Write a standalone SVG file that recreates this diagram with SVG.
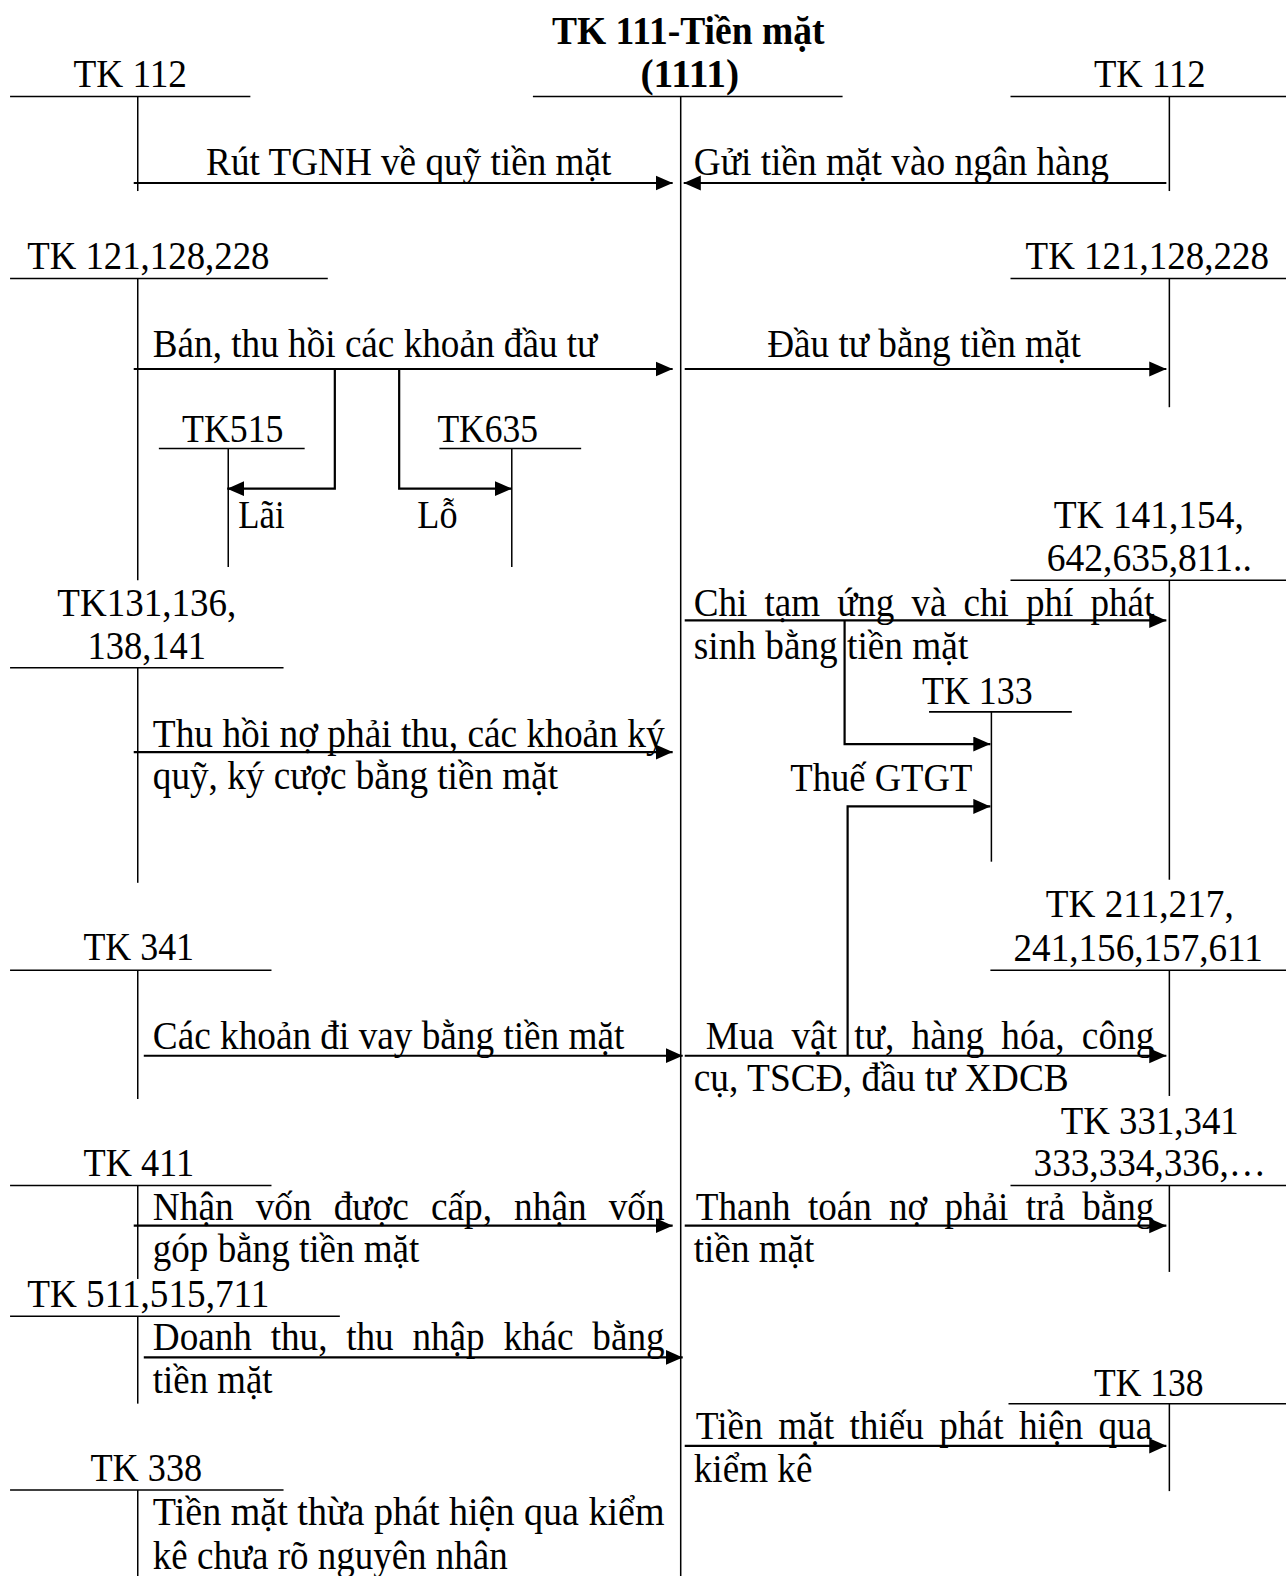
<svg xmlns="http://www.w3.org/2000/svg" width="1286" height="1576" viewBox="0 0 1286 1576">
<style>
.t{font-family:"Liberation Serif","Times New Roman",serif;font-size:40.5px;fill:#000}
.b{font-weight:bold}
.m{text-anchor:middle}
.ln{stroke:#000;stroke-width:1.5;fill:none}
.ar{stroke:#000;stroke-width:2.2;fill:none;marker-end:url(#ah)}
</style>
<defs>
<marker id="ah" markerUnits="userSpaceOnUse" markerWidth="18" markerHeight="16" refX="17" refY="7.5" orient="auto">
<path d="M0,0 L17,7.5 L0,15 z" fill="#000"/>
</marker>
</defs>
<rect width="1286" height="1576" fill="#fff"/>
<g transform="scale(1.00547)">
<g id="tk111">
<text class="t b m" x="684.5" y="44" textLength="271" lengthAdjust="spacingAndGlyphs">TK 111-Tiền mặt</text>
<text class="t b m" x="686" y="87" textLength="98" lengthAdjust="spacingAndGlyphs">(1111)</text>
<line class="ln" x1="530" y1="96" x2="838" y2="96"/>
<line class="ln" x1="677" y1="96" x2="677" y2="1568"/>
</g>
<g id="tk112-left">
<text class="t m" x="129.5" y="87" textLength="113" lengthAdjust="spacingAndGlyphs">TK 112</text>
<line class="ln" x1="10" y1="96" x2="249" y2="96"/>
<line class="ln" x1="137" y1="96" x2="137" y2="190"/>
</g>
<g id="tk112-right">
<text class="t m" x="1143.5" y="87" textLength="111" lengthAdjust="spacingAndGlyphs">TK 112</text>
<line class="ln" x1="1005" y1="96" x2="1279" y2="96"/>
<line class="ln" x1="1163" y1="96" x2="1163" y2="190"/>
</g>
<g id="tk121-left">
<text class="t m" x="147.5" y="268" textLength="241" lengthAdjust="spacingAndGlyphs">TK 121,128,228</text>
<line class="ln" x1="10" y1="277" x2="326" y2="277"/>
<line class="ln" x1="137" y1="277" x2="137" y2="577"/>
</g>
<g id="tk121-right">
<text class="t m" x="1141" y="268" textLength="242" lengthAdjust="spacingAndGlyphs">TK 121,128,228</text>
<line class="ln" x1="1005" y1="277" x2="1279" y2="277"/>
<line class="ln" x1="1163" y1="277" x2="1163" y2="405"/>
</g>
<g id="tk515">
<text class="t m" x="231.5" y="440" textLength="101" lengthAdjust="spacingAndGlyphs">TK515</text>
<line class="ln" x1="158" y1="446" x2="303" y2="446"/>
<line class="ln" x1="227" y1="446" x2="227" y2="564"/>
</g>
<g id="tk635">
<text class="t m" x="485" y="440" textLength="100" lengthAdjust="spacingAndGlyphs">TK635</text>
<line class="ln" x1="437" y1="446" x2="578" y2="446"/>
<line class="ln" x1="509" y1="446" x2="509" y2="564"/>
</g>
<g id="tk141">
<text class="t m" x="1142.5" y="525" textLength="189" lengthAdjust="spacingAndGlyphs">TK 141,154,</text>
<text class="t m" x="1143" y="568" textLength="204" lengthAdjust="spacingAndGlyphs">642,635,811..</text>
<line class="ln" x1="1005" y1="577" x2="1279" y2="577"/>
<line class="ln" x1="1163" y1="577" x2="1163" y2="875"/>
</g>
<g id="tk131">
<text class="t m" x="146" y="613" textLength="178" lengthAdjust="spacingAndGlyphs">TK131,136,</text>
<text class="t m" x="146" y="655" textLength="118" lengthAdjust="spacingAndGlyphs">138,141</text>
<line class="ln" x1="10" y1="664" x2="282" y2="664"/>
<line class="ln" x1="137" y1="664" x2="137" y2="878"/>
</g>
<g id="tk133">
<text class="t m" x="972" y="700" textLength="110" lengthAdjust="spacingAndGlyphs">TK 133</text>
<line class="ln" x1="924" y1="708" x2="1066" y2="708"/>
<line class="ln" x1="986" y1="708" x2="986" y2="857"/>
</g>
<g id="tk211">
<text class="t m" x="1133.5" y="912" textLength="187" lengthAdjust="spacingAndGlyphs">TK 211,217,</text>
<text class="t m" x="1132" y="956" textLength="248" lengthAdjust="spacingAndGlyphs">241,156,157,611</text>
<line class="ln" x1="985" y1="965" x2="1279" y2="965"/>
<line class="ln" x1="1163" y1="965" x2="1163" y2="1090"/>
</g>
<g id="tk341">
<text class="t m" x="138" y="955" textLength="110" lengthAdjust="spacingAndGlyphs">TK 341</text>
<line class="ln" x1="10" y1="965" x2="270" y2="965"/>
<line class="ln" x1="137" y1="965" x2="137" y2="1093"/>
</g>
<g id="tk331">
<text class="t m" x="1143.5" y="1128" textLength="177" lengthAdjust="spacingAndGlyphs">TK 331,341</text>
<text class="t m" x="1143.5" y="1170" textLength="231" lengthAdjust="spacingAndGlyphs">333,334,336,…</text>
<line class="ln" x1="1005" y1="1179" x2="1279" y2="1179"/>
<line class="ln" x1="1163" y1="1179" x2="1163" y2="1265"/>
</g>
<g id="tk411">
<text class="t m" x="138" y="1170" textLength="110" lengthAdjust="spacingAndGlyphs">TK 411</text>
<line class="ln" x1="10" y1="1179" x2="270" y2="1179"/>
<line class="ln" x1="137" y1="1179" x2="137" y2="1272"/>
</g>
<g id="tk511">
<text class="t m" x="147.5" y="1300" textLength="241" lengthAdjust="spacingAndGlyphs">TK 511,515,711</text>
<line class="ln" x1="10" y1="1309" x2="338" y2="1309"/>
<line class="ln" x1="137" y1="1309" x2="137" y2="1396"/>
</g>
<g id="tk138">
<text class="t m" x="1142.5" y="1388" textLength="109" lengthAdjust="spacingAndGlyphs">TK 138</text>
<line class="ln" x1="1003" y1="1396" x2="1279" y2="1396"/>
<line class="ln" x1="1163" y1="1396" x2="1163" y2="1483"/>
</g>
<g id="tk338">
<text class="t m" x="145.5" y="1473" textLength="111" lengthAdjust="spacingAndGlyphs">TK 338</text>
<line class="ln" x1="10" y1="1482" x2="282" y2="1482"/>
<line class="ln" x1="137" y1="1482" x2="137" y2="1568"/>
</g>
<g id="connectors">
<line class="ar" x1="133" y1="182" x2="669" y2="182"/>
<line class="ar" x1="1160" y1="182" x2="680" y2="182"/>
<line class="ar" x1="133" y1="367" x2="669" y2="367"/>
<line class="ar" x1="681" y1="367" x2="1160" y2="367"/>
<polyline class="ar" points="333,367 333,486 226,486"/>
<polyline class="ar" points="397,367 397,486 509,486"/>
<line class="ar" x1="681" y1="617" x2="1160" y2="617"/>
<polyline class="ar" points="840,617 840,740 985,740"/>
<line class="ar" x1="133" y1="748" x2="669" y2="748"/>
<polyline class="ar" points="843,1050 843,802 985,802"/>
<line class="ar" x1="143" y1="1050" x2="679" y2="1050"/>
<line class="ar" x1="681" y1="1050" x2="1160" y2="1050"/>
<line class="ar" x1="133" y1="1219" x2="669" y2="1219"/>
<line class="ar" x1="681" y1="1219" x2="1160" y2="1219"/>
<line class="ar" x1="143" y1="1350" x2="679" y2="1350"/>
<line class="ar" x1="681" y1="1438" x2="1160" y2="1438"/>
</g>
<g id="labels">
<text class="t" x="205" y="174" textLength="403" lengthAdjust="spacingAndGlyphs">Rút TGNH về quỹ tiền mặt</text>
<text class="t" x="690" y="174" textLength="413" lengthAdjust="spacingAndGlyphs">Gửi tiền mặt vào ngân hàng</text>
<text class="t" x="152" y="355" textLength="442" lengthAdjust="spacingAndGlyphs">Bán, thu hồi các khoản đầu tư</text>
<text class="t" x="763" y="355" textLength="312" lengthAdjust="spacingAndGlyphs">Đầu tư bằng tiền mặt</text>
<text class="t" x="237" y="525" textLength="46" lengthAdjust="spacingAndGlyphs">Lãi</text>
<text class="t" x="415" y="525" textLength="40" lengthAdjust="spacingAndGlyphs">Lỗ</text>
<text class="t" x="690" y="613" style="word-spacing:8.5px" textLength="458" lengthAdjust="spacingAndGlyphs">Chi tạm ứng và chi phí phát</text>
<text class="t" x="690" y="655" textLength="273" lengthAdjust="spacingAndGlyphs">sinh bằng tiền mặt</text>
<text class="t" x="152" y="743" textLength="509" lengthAdjust="spacingAndGlyphs">Thu hồi nợ phải thu, các khoản ký</text>
<text class="t" x="152" y="785" textLength="403" lengthAdjust="spacingAndGlyphs">quỹ, ký cược bằng tiền mặt</text>
<text class="t m" x="876.5" y="787" textLength="181" lengthAdjust="spacingAndGlyphs">Thuế GTGT</text>
<text class="t" x="152" y="1043" textLength="469" lengthAdjust="spacingAndGlyphs">Các khoản đi vay bằng tiền mặt</text>
<text class="t" x="702" y="1043" style="word-spacing:8.75px" textLength="446" lengthAdjust="spacingAndGlyphs">Mua vật tư, hàng hóa, công</text>
<text class="t" x="690" y="1085" textLength="373" lengthAdjust="spacingAndGlyphs">cụ, TSCĐ, đầu tư XDCB</text>
<text class="t" x="152" y="1213" style="word-spacing:13.8px" textLength="509" lengthAdjust="spacingAndGlyphs">Nhận vốn được cấp, nhận vốn</text>
<text class="t" x="152" y="1255" textLength="265" lengthAdjust="spacingAndGlyphs">góp bằng tiền mặt</text>
<text class="t" x="692" y="1213" style="word-spacing:8.75px" textLength="456" lengthAdjust="spacingAndGlyphs">Thanh toán nợ phải trả bằng</text>
<text class="t" x="690" y="1255" textLength="120" lengthAdjust="spacingAndGlyphs">tiền mặt</text>
<text class="t" x="152" y="1343" style="word-spacing:10.3px" textLength="509" lengthAdjust="spacingAndGlyphs">Doanh thu, thu nhập khác bằng</text>
<text class="t" x="152" y="1385" textLength="119" lengthAdjust="spacingAndGlyphs">tiền mặt</text>
<text class="t" x="692" y="1431" style="word-spacing:6.6px" textLength="454" lengthAdjust="spacingAndGlyphs">Tiền mặt thiếu phát hiện qua</text>
<text class="t" x="690" y="1474" textLength="118" lengthAdjust="spacingAndGlyphs">kiểm kê</text>
<text class="t" x="152" y="1517" textLength="509" lengthAdjust="spacingAndGlyphs">Tiền mặt thừa phát hiện qua kiểm</text>
<text class="t" x="152" y="1560" textLength="353" lengthAdjust="spacingAndGlyphs">kê chưa rõ nguyên nhân</text>
</g>
</g>
</svg>
